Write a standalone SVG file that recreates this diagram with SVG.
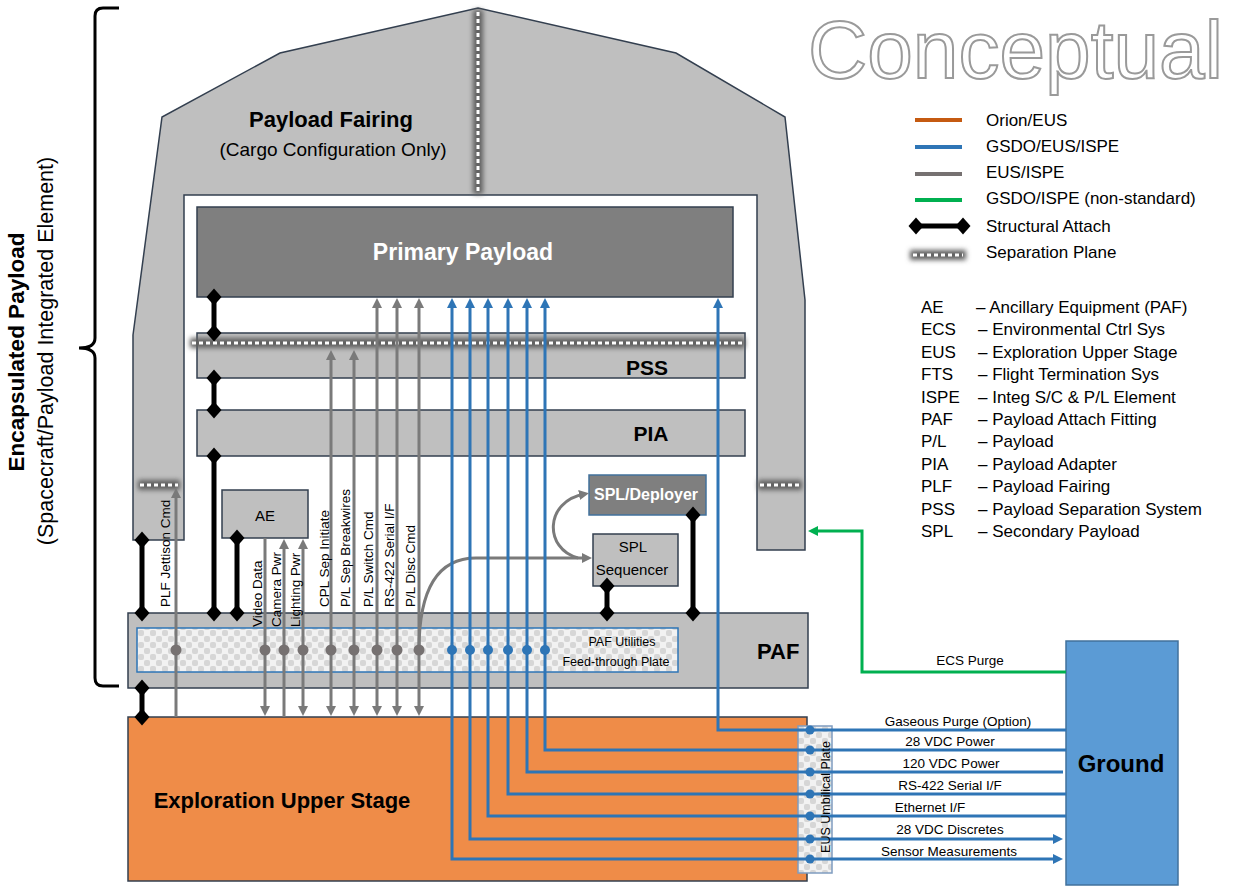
<svg xmlns="http://www.w3.org/2000/svg" width="1233" height="888" viewBox="0 0 1233 888">
<style>
text{font-family:"Liberation Sans",Arial,sans-serif;fill:#000}
.box{fill:#bfbfbf;stroke:#333f4f;stroke-width:1.5}
.b{font-weight:bold}
.lab{font-size:13.5px}
.leg{font-size:17px}
.gl{fill:none;stroke:#7a7a7a;stroke-width:3}
.bl{fill:none;stroke:#2e75b6;stroke-width:3}
.att{stroke:#000;stroke-width:5;marker-start:url(#dia);marker-end:url(#dia)}
.sepb{stroke:#5e5e5e;stroke-width:10;filter:url(#blur)}
.sepd{stroke:#fff;stroke-width:3;stroke-dasharray:4 3}
.gd{fill:#767171}
.bd{fill:#2e75b6}
</style>
<defs>
<filter id="blur" filterUnits="userSpaceOnUse" x="0" y="0" width="1233" height="888"><feGaussianBlur stdDeviation="2.5"/></filter>
<pattern id="chk" width="12" height="12" patternUnits="userSpaceOnUse"><rect width="12" height="12" fill="#f2f2f2"/><rect x="0" y="0" width="6" height="6" rx="2" fill="#d6d6d6"/><rect x="6" y="6" width="6" height="6" rx="2" fill="#d6d6d6"/></pattern>
<marker id="dia" viewBox="-8 -9 16 18" refX="0" refY="0" markerWidth="16" markerHeight="18" markerUnits="userSpaceOnUse" orient="0"><path d="M0,-8.5 L7.5,0 L0,8.5 L-7.5,0 Z" fill="#000"/></marker>
<marker id="ag" viewBox="0 0 10 10" refX="6" refY="5" markerWidth="10" markerHeight="10" markerUnits="userSpaceOnUse" orient="auto-start-reverse"><path d="M0,0 L10,5 L0,10 Z" fill="#7a7a7a"/></marker>
<marker id="ab" viewBox="0 0 10 10" refX="6" refY="5" markerWidth="10" markerHeight="10" markerUnits="userSpaceOnUse" orient="auto-start-reverse"><path d="M0,0 L10,5 L0,10 Z" fill="#2e75b6"/></marker>
<marker id="agr" viewBox="0 0 10 10" refX="6" refY="5" markerWidth="10" markerHeight="10" markerUnits="userSpaceOnUse" orient="auto-start-reverse"><path d="M0,0 L10,5 L0,10 Z" fill="#00b050"/></marker>
</defs>
<rect width="1233" height="888" fill="#fff"/>

<g id="title"><text x="808" y="78" style="font-size:82px;fill:#fff;stroke:#9a9a9a;stroke-width:2">Conceptual</text></g>

<g id="encapsulated-payload">
<path d="M119,8 L103,8 Q95,8 95,16 L95,338 Q95,348 79,348 Q95,348 95,358 L95,678 Q95,686 103,686 L119,686" fill="none" stroke="#000" stroke-width="3"/>
<text class="b" transform="translate(24,352) rotate(-90)" text-anchor="middle" style="font-size:22.5px">Encapsulated Payload</text>
<text transform="translate(53,351) rotate(-90)" text-anchor="middle" style="font-size:21.5px">(Spacecraft/Payload Integrated Element)</text>
</g>

<g id="fairing">
<path class="box" d="M133,540 L133,335 L162,117 L280,53 L478,8 L676,53 L785,117 L805,300 L805,550 L757,550 L757,195 L184,195 L184,540 Z"/>
<text class="b" x="331" y="127" text-anchor="middle" style="font-size:22px">Payload Fairing</text>
<text x="333" y="156" text-anchor="middle" style="font-size:19px">(Cargo Configuration Only)</text>
</g>

<g id="primary-payload">
<rect x="197" y="207" width="536" height="90" fill="#7f7f7f" stroke="#333f4f" stroke-width="1.5"/>
<text class="b" x="463" y="260" text-anchor="middle" style="font-size:23px;fill:#fff">Primary Payload</text>
</g>
<g id="pss"><rect class="box" x="197" y="333" width="548" height="45"/><text class="b" x="647" y="375" text-anchor="middle" style="font-size:21px">PSS</text></g>
<g id="pia"><rect class="box" x="197" y="410" width="548" height="46"/><text class="b" x="651" y="441" text-anchor="middle" style="font-size:21px">PIA</text></g>
<g id="ae"><rect class="box" x="222" y="490" width="86" height="48"/><text x="265" y="521" text-anchor="middle" style="font-size:15px">AE</text></g>
<g id="spl-deployer"><rect x="589" y="475" width="117" height="40" fill="#7f7f7f" stroke="#41719c" stroke-width="1.5"/><text class="b" x="646" y="500" text-anchor="middle" style="font-size:16px;fill:#fff">SPL/Deployer</text></g>
<g id="spl-sequencer"><rect class="box" x="593" y="534" width="85" height="52"/><text x="633" y="552" text-anchor="middle" style="font-size:15px">SPL</text><text x="632" y="575" text-anchor="middle" style="font-size:15px">Sequencer</text></g>
<g id="paf">
<rect class="box" x="128" y="613" width="680" height="75"/>
<text class="b" x="757" y="659" style="font-size:22px">PAF</text>
</g>
<g id="paf-plate">
<rect x="137" y="628" width="541" height="44" fill="url(#chk)" stroke="#2e75b6" stroke-width="1.5"/>
<text x="622" y="646" text-anchor="middle" style="font-size:12.5px">PAF Utilities</text>
<text x="616" y="666" text-anchor="middle" style="font-size:12.5px">Feed-through Plate</text>
</g>
<g id="eus">
<rect x="128" y="717" width="679" height="164" fill="#ef8c48" stroke="#333f4f" stroke-width="1.5"/>
<text class="b" x="282" y="808" text-anchor="middle" style="font-size:22px">Exploration Upper Stage</text>
</g>
<g id="ground">
<rect x="1066" y="641" width="112" height="244" fill="#5b9bd5" stroke="#41719c" stroke-width="1.5"/>
<text class="b" x="1121" y="772" text-anchor="middle" style="font-size:24px">Ground</text>
</g>

<g id="separation-planes">
<line class="sepb" x1="478" y1="10" x2="478" y2="194"/><line class="sepd" x1="478" y1="12" x2="478" y2="192"/>
<line class="sepb" x1="190" y1="343" x2="745" y2="343"/><line class="sepd" x1="192" y1="343" x2="743" y2="343"/>
<line class="sepb" x1="138" y1="485" x2="180" y2="485"/><line class="sepd" x1="140" y1="485" x2="178" y2="485"/>
<line class="sepb" x1="758" y1="485" x2="802" y2="485"/><line class="sepd" x1="760" y1="485" x2="800" y2="485"/>
</g>

<g id="umbilical-plate">
<rect x="798" y="726" width="34" height="147" fill="url(#chk)" stroke="#7f9cc0" stroke-width="1.5"/>
</g>

<g id="connectors">
<line class="att" x1="214" y1="297" x2="214" y2="333"/>
<line class="att" x1="214" y1="378" x2="214" y2="410"/>
<line class="att" x1="214" y1="456" x2="214" y2="613"/>
<line class="att" x1="142" y1="540" x2="142" y2="613"/>
<line class="att" x1="237" y1="538" x2="237" y2="613"/>
<line class="att" x1="607" y1="586" x2="607" y2="613"/>
<line class="att" x1="693" y1="515" x2="693" y2="613"/>
<line class="att" x1="142" y1="688" x2="142" y2="717"/>

<path class="gl" d="M176,717 L176,492" marker-end="url(#ag)"/>
<path class="gl" d="M265,538 L265,712" marker-end="url(#ag)"/>
<path class="gl" d="M284,717 L284,543" marker-end="url(#ag)"/>
<path class="gl" d="M303,543 L303,712" marker-start="url(#ag)" marker-end="url(#ag)"/>
<path class="gl" d="M331,354 L331,712" marker-start="url(#ag)" marker-end="url(#ag)"/>
<path class="gl" d="M354,354 L354,712" marker-start="url(#ag)" marker-end="url(#ag)"/>
<path class="gl" d="M377,302 L377,712" marker-start="url(#ag)" marker-end="url(#ag)"/>
<path class="gl" d="M397,302 L397,712" marker-start="url(#ag)" marker-end="url(#ag)"/>
<path class="gl" d="M419,302 L419,712" marker-start="url(#ag)" marker-end="url(#ag)"/>
<path class="gl" d="M419,650 C419,600 432,558 476,558 L588,558" marker-end="url(#ag)"/>
<path class="gl" d="M578,558 C544,549 544,501 585,494" marker-end="url(#ag)"/>

<path class="bl" d="M452,302 L452,859 L1059,859" marker-start="url(#ab)" marker-end="url(#ab)"/>
<path class="bl" d="M470,302 L470,839 L1059,839" marker-start="url(#ab)" marker-end="url(#ab)"/>
<path class="bl" d="M488,302 L488,816 L1066,816" marker-start="url(#ab)"/>
<path class="bl" d="M508,302 L508,794 L1066,794" marker-start="url(#ab)"/>
<path class="bl" d="M527,302 L527,772 L1063,772" marker-start="url(#ab)"/>
<path class="bl" d="M545,302 L545,750 L1066,750" marker-start="url(#ab)"/>
<path class="bl" d="M718,302 L718,730 L1066,730" marker-start="url(#ab)"/>

<path d="M1066,672 L862,672 L862,531 L812,531" fill="none" stroke="#00b050" stroke-width="3" marker-end="url(#agr)"/>

<g>
<circle class="gd" cx="176" cy="650" r="5.5"/><circle class="gd" cx="265" cy="650" r="5.5"/><circle class="gd" cx="284" cy="650" r="5.5"/><circle class="gd" cx="303" cy="650" r="5.5"/><circle class="gd" cx="331" cy="650" r="5.5"/><circle class="gd" cx="354" cy="650" r="5.5"/><circle class="gd" cx="377" cy="650" r="5.5"/><circle class="gd" cx="397" cy="650" r="5.5"/><circle class="gd" cx="419" cy="650" r="5.5"/>
<circle class="bd" cx="452" cy="650" r="5"/><circle class="bd" cx="470" cy="650" r="5"/><circle class="bd" cx="488" cy="650" r="5"/><circle class="bd" cx="508" cy="650" r="5"/><circle class="bd" cx="527" cy="650" r="5"/><circle class="bd" cx="545" cy="650" r="5"/>
<circle class="bd" cx="810" cy="730" r="4.5"/><circle class="bd" cx="810" cy="750" r="4.5"/><circle class="bd" cx="810" cy="772" r="4.5"/><circle class="bd" cx="810" cy="794" r="4.5"/><circle class="bd" cx="810" cy="816" r="4.5"/><circle class="bd" cx="810" cy="839" r="4.5"/><circle class="bd" cx="810" cy="859" r="4.5"/>
</g>

<g class="lab">
<text transform="translate(170,607) rotate(-90)">PLF Jettison Cmd</text>
<text transform="translate(262,627) rotate(-90)">Video Data</text>
<text transform="translate(281,627) rotate(-90)">Camera Pwr</text>
<text transform="translate(300,627) rotate(-90)">Lighting Pwr</text>
<text transform="translate(329,607) rotate(-90)">CPL Sep Initiate</text>
<text transform="translate(350,607) rotate(-90)">P/L Sep Breakwires</text>
<text transform="translate(373,607) rotate(-90)">P/L Switch Cmd</text>
<text transform="translate(394,607) rotate(-90)">RS-422 Serial I/F</text>
<text transform="translate(415,607) rotate(-90)">P/L Disc Cmd</text>
<text x="970" y="665" text-anchor="middle">ECS Purge</text>
<text x="958" y="726" text-anchor="middle">Gaseous Purge (Option)</text>
<text x="950" y="746" text-anchor="middle">28 VDC Power</text>
<text x="951" y="768" text-anchor="middle">120 VDC Power</text>
<text x="950" y="790" text-anchor="middle">RS-422 Serial I/F</text>
<text x="930" y="812" text-anchor="middle">Ethernet I/F</text>
<text x="950" y="834" text-anchor="middle">28 VDC Discretes</text>
<text x="949" y="856" text-anchor="middle">Sensor Measurements</text>
<text transform="translate(830,797) rotate(-90)" text-anchor="middle" style="font-size:12.5px">EUS Umbilical Plate</text>
</g>
</g>

<g id="legend">
<line x1="915" y1="120" x2="962" y2="120" stroke="#c55a11" stroke-width="4"/>
<line x1="915" y1="147" x2="962" y2="147" stroke="#2e75b6" stroke-width="4"/>
<line x1="915" y1="174" x2="962" y2="174" stroke="#767171" stroke-width="4"/>
<line x1="915" y1="200" x2="962" y2="200" stroke="#00b050" stroke-width="4"/>
<line class="att" x1="916" y1="226" x2="963" y2="226"/>
<line class="sepb" x1="910" y1="255" x2="966" y2="255"/><line class="sepd" x1="913" y1="255" x2="963" y2="255"/>
<g class="leg">
<text x="986" y="126">Orion/EUS</text>
<text x="986" y="152">GSDO/EUS/ISPE</text>
<text x="986" y="178">EUS/ISPE</text>
<text x="986" y="204">GSDO/ISPE (non-standard)</text>
<text x="986" y="232">Structural Attach</text>
<text x="986" y="258">Separation Plane</text>
</g>
</g>

<g id="abbreviations" class="leg">
<text y="313"><tspan x="921">AE</tspan><tspan x="976">– Ancillary Equipment (PAF)</tspan></text>
<text y="335.4"><tspan x="921">ECS</tspan><tspan x="978">– Environmental Ctrl Sys</tspan></text>
<text y="357.8"><tspan x="921">EUS</tspan><tspan x="978">– Exploration Upper Stage</tspan></text>
<text y="380.2"><tspan x="921">FTS</tspan><tspan x="978">– Flight Termination Sys</tspan></text>
<text y="402.6"><tspan x="921">ISPE</tspan><tspan x="978">– Integ S/C &amp; P/L Element</tspan></text>
<text y="425"><tspan x="921">PAF</tspan><tspan x="978">– Payload Attach Fitting</tspan></text>
<text y="447.4"><tspan x="921">P/L</tspan><tspan x="978">– Payload</tspan></text>
<text y="469.8"><tspan x="921">PIA</tspan><tspan x="978">– Payload Adapter</tspan></text>
<text y="492.2"><tspan x="921">PLF</tspan><tspan x="978">– Payload Fairing</tspan></text>
<text y="514.6"><tspan x="921">PSS</tspan><tspan x="978">– Payload Separation System</tspan></text>
<text y="537"><tspan x="921">SPL</tspan><tspan x="978">– Secondary Payload</tspan></text>
</g>
</svg>
